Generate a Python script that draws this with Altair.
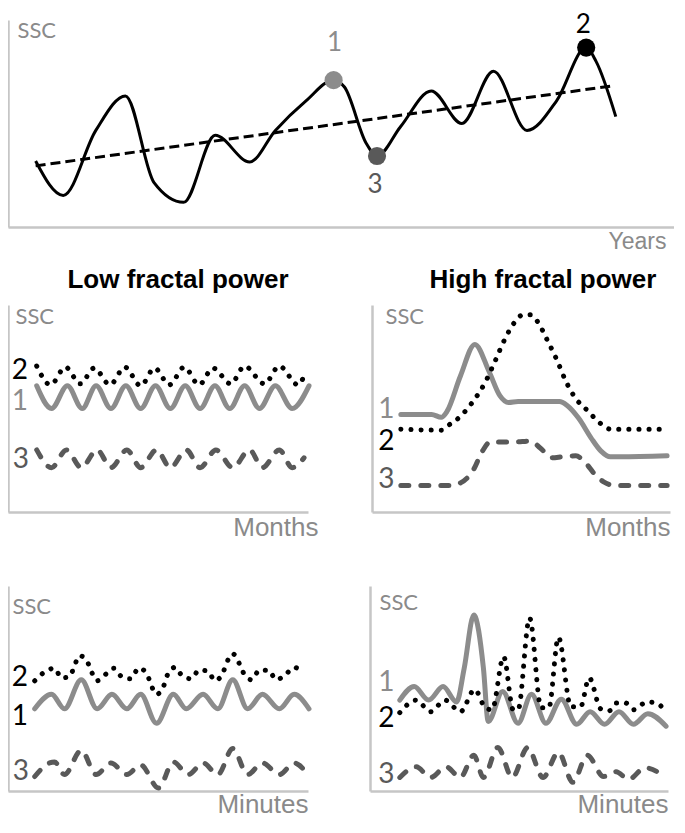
import altair as alt
import pandas as pd

GRAY = "#8c8c8c"
DARK = "#595959"
BLACK = "#000000"
AXIS_COL = "#c6c6c6"
TITLE_COL = "#8a8a8a"
NUM_FONT = "Lato"
TXT_FONT = "Liberation Sans"

# ---------------- Top panel: SSC over years ----------------
yr_t = [28, 56, 89, 119, 148, 178, 210, 245, 271, 302, 330, 341, 363, 374, 398, 429, 460, 492, 526, 556, 586, 596, 616]
yr_ssc = [67, 32, 98, 133, 45, 25, 93, 66, 98, 128, 149, 142, 85, 72, 102, 138, 105, 158, 98, 128, 182, 168, 112]
trend_t = [28, 611]
trend_ssc = [62, 143]
event_t = [330, 586, 374]
event_ssc = [149, 182, 72]
event_col = [GRAY, BLACK, DARK]
event_lab = ["1", "2", "3"]
event_lab_t = [331, 583, 372]
event_lab_ssc = [187, 205, 43]

# ---------------- Middle left: low fractal power, months ----------------
ml_t1 = [29, 44, 60, 75, 89, 104, 119, 134, 149, 164, 179, 194, 209, 224, 239, 254, 270, 287, 304]
ml_s1 = [128, 105, 128, 105, 128, 105, 128, 105, 128, 105, 128, 105, 128, 105, 128, 105, 128, 105, 128]
ml_t2 = [29, 43, 58, 73, 87, 103, 118, 134, 148, 163, 178, 193, 207, 225, 239, 259, 274, 293, 299]
ml_s2 = [148, 129, 147, 130, 146, 129, 147, 128, 146, 129, 147, 129, 146, 130, 148, 130, 148, 129, 138]
ml_t3 = [29, 44, 59, 74, 90, 104, 120, 134, 150, 164, 180, 194, 210, 227, 244, 257, 274, 287, 299]
ml_s3 = [63, 45, 63, 45, 63, 45, 63, 45, 63, 45, 63, 45, 63, 45, 63, 45, 63, 45, 55]
ml_lab_t = [12, 12, 13]
ml_lab_ssc = [143, 112, 53]
ml_lab = ["2", "1", "3"]
ml_lab_col = [BLACK, GRAY, DARK]

# ---------------- Middle right: high fractal power, months ----------------
mr_t1 = [30, 62, 72, 78, 92, 107, 122, 133, 142, 152, 195, 203, 215, 228, 238, 248, 258, 307]
mr_s1 = [99, 99, 96, 102, 138, 170, 142, 118, 111, 112, 112, 108, 95, 75, 62, 56, 56, 57]
mr_t2 = [30, 72, 78, 92, 105, 118, 128, 138, 148, 157, 165, 173, 182, 192, 202, 212, 222, 232, 240, 248, 307]
mr_s2 = [84, 83, 87, 97, 112, 132, 153, 175, 192, 200, 200, 192, 175, 155, 132, 115, 105, 95, 88, 84, 84]
mr_t3 = [30, 82, 93, 105, 115, 123, 132, 148, 165, 175, 187, 198, 212, 222, 232, 242, 252, 307]
mr_s3 = [27, 27, 30, 42, 62, 71, 71, 71, 72, 65, 55, 56, 57, 50, 38, 30, 27, 27]
mr_lab_t = [15, 15, 15]
mr_lab_ssc = [103, 71, 32]
mr_lab = ["1", "2", "3"]
mr_lab_col = [GRAY, BLACK, DARK]

# ---------------- Bottom left: low fractal power, minutes ----------------
bl_t1 = [27, 44, 57, 74, 90, 105, 120, 134, 150, 167, 180, 197, 212, 227, 242, 257, 274, 289, 304]
bl_s1 = [85, 100, 85, 115, 85, 100, 85, 100, 70, 100, 85, 100, 85, 115, 85, 100, 85, 100, 85]
bl_t2 = [27, 37, 47, 54, 62, 67, 72, 79, 84, 90, 99, 107, 115, 124, 132, 140, 144, 150, 157, 161,
         169, 176, 185, 193, 202, 209, 217, 221, 227, 234, 239, 246, 254, 263, 271, 280, 289, 298]
bl_s2 = [114, 123, 127, 117, 118, 129, 140, 136, 124, 114, 121, 127, 118, 116, 127, 122, 111, 100, 108, 120,
         128, 119, 116, 125, 124, 114, 122, 133, 142, 131, 120, 115, 125, 125, 115, 120, 128, 121]
bl_t3 = [27, 42, 47, 57, 74, 89, 104, 120, 134, 152, 167, 182, 197, 212, 227, 242, 257, 274, 289, 304]
bl_s3 = [15, 29, 30, 17, 42, 17, 29, 17, 27, 3, 30, 17, 29, 17, 44, 17, 29, 17, 29, 15]
bl_lab_t = [12, 12, 13]
bl_lab_ssc = [117, 77, 20]
bl_lab = ["2", "1", "3"]
bl_lab_col = [BLACK, BLACK, DARK]

# ---------------- Bottom right: high fractal power, minutes ----------------
br_t1 = [31, 46, 61, 76, 90, 98, 108, 118, 123, 138, 154, 168, 183, 199, 215, 229, 244, 259, 274, 289, 308]
br_s1 = [94, 108, 94, 108, 92, 127, 182, 127, 72, 103, 70, 100, 70, 95, 69, 82, 69, 82, 69, 80, 67]
br_t2 = [31, 48, 63, 78, 94, 109, 120, 127, 139, 149, 154, 166, 178, 186, 196, 209, 219, 228, 240,
         249, 256, 266, 274, 288, 298, 306]
br_s2 = [81, 94, 82, 94, 82, 105, 86, 84, 139, 84, 84, 179, 86, 86, 159, 87, 87, 117, 85,
         83, 91, 91, 84, 92, 91, 84]
br_t3 = [31, 48, 63, 79, 94, 108, 118, 133, 148, 164, 180, 196, 211, 226, 243, 256, 269, 286, 308]
br_s3 = [14, 25, 14, 25, 14, 37, 14, 45, 14, 45, 14, 40, 9, 37, 15, 20, 12, 24, 14]
br_lab_t = [17, 17, 17]
br_lab_ssc = [112, 74, 17]
br_lab = ["1", "2", "3"]
br_lab_col = [GRAY, BLACK, DARK]

SOLID_GRAY = dict(color=GRAY, strokeWidth=5, strokeCap="round", strokeJoin="round")
DOTTED = dict(color=BLACK, strokeWidth=5, strokeDash=[0.1, 10], strokeCap="round", strokeJoin="round")
DASHED = dict(color=DARK, strokeWidth=5, strokeDash=[8, 12], strokeCap="round", strokeJoin="round")


def make_axes(xtitle, xtx, xty, xfs, sx, sy):
    xa = alt.Axis(title=xtitle, labels=False, ticks=False, grid=False,
                  domainColor=AXIS_COL, domainWidth=2.5,
                  titleX=xtx, titleY=xty, titleAlign="right", titleBaseline="alphabetic",
                  titleFont=TXT_FONT, titleFontSize=xfs, titleFontWeight="normal",
                  titleColor=TITLE_COL, titlePadding=0, minExtent=0)
    ya = alt.Axis(title="SSC", labels=False, ticks=False, grid=False,
                  domainColor=AXIS_COL, domainWidth=2.5, titleAngle=0,
                  titleX=sx, titleY=sy, titleAlign="left", titleBaseline="alphabetic",
                  titleFont=NUM_FONT, titleFontSize=22, titleFontWeight="normal",
                  titleColor=TITLE_COL, titlePadding=0, minExtent=0)
    return xa, ya


def panel(width, height, xdom, ydom, axes, lines, labs, lab_fs, extra=None):
    xa, ya = axes
    X = alt.X("t:Q", scale=alt.Scale(domain=[0, xdom], nice=False, zero=False), axis=xa)
    Y = alt.Y("ssc:Q", scale=alt.Scale(domain=[0, ydom], nice=False, zero=False), axis=ya)
    layers = []
    for ts, ss, style in lines:
        df = pd.DataFrame({"t": ts, "ssc": ss})
        layers.append(alt.Chart(df).mark_line(interpolate="monotone", clip=False, **style)
                      .encode(x=X, y=Y))
    if extra is not None:
        ts, ss, cols = extra
        df = pd.DataFrame({"t": ts, "ssc": ss, "col": cols})
        layers.append(alt.Chart(df).mark_circle(size=330, opacity=1)
                      .encode(x=X, y=Y, color=alt.Color("col:N", scale=None)))
    lt, ls, lab, lc = labs
    df = pd.DataFrame({"t": lt, "ssc": ls, "lab": lab, "col": lc})
    layers.append(alt.Chart(df).mark_text(font=NUM_FONT, fontSize=lab_fs, align="center",
                                          baseline="middle")
                  .encode(x=X, y=Y, text="lab:N", color=alt.Color("col:N", scale=None)))
    return alt.layer(*layers).properties(width=width, height=height)


def ptitle(text, dx):
    return alt.TitleParams(text=text, font=TXT_FONT, fontSize=26, fontWeight="bold",
                           color=BLACK, anchor="middle", frame="group", dx=dx,
                           offset=-9, baseline="alphabetic")


top = panel(666, 207, 675, 210,
            make_axes("Years", 658, 21, 23, 9, 17),
            [(yr_t, yr_ssc, dict(color=BLACK, strokeWidth=3, strokeJoin="round")),
             (trend_t, trend_ssc, dict(color=BLACK, strokeWidth=3, strokeDash=[10, 5]))],
            (event_lab_t, event_lab_ssc, event_lab, event_col), 26,
            extra=(event_t, event_ssc, event_col))

ml = panel(300, 207, 303, 210,
           make_axes("Months", 310, 23, 26, 7, 18),
           [(ml_t1, ml_s1, SOLID_GRAY), (ml_t2, ml_s2, DOTTED), (ml_t3, ml_s3, DASHED)],
           (ml_lab_t, ml_lab_ssc, ml_lab, ml_lab_col), 28).properties(
    title=ptitle("Low fractal power", 20))

mr = panel(298, 207, 310, 210,
           make_axes("Months", 298, 23, 26, 13, 18),
           [(mr_t1, mr_s1, SOLID_GRAY), (mr_t2, mr_s2, DOTTED), (mr_t3, mr_s3, DASHED)],
           (mr_lab_t, mr_lab_ssc, mr_lab, mr_lab_col), 28).properties(
    title=ptitle("High fractal power", 22))

bl = panel(300, 205, 303, 212,
           make_axes("Minutes", 300, 21, 26, 4, 27),
           [(bl_t1, bl_s1, SOLID_GRAY), (bl_t2, bl_s2, DOTTED), (bl_t3, bl_s3, DASHED)],
           (bl_lab_t, bl_lab_ssc, bl_lab, bl_lab_col), 28)

br = panel(298, 205, 310, 212,
           make_axes("Minutes", 298, 21, 26, 9, 23),
           [(br_t1, br_s1, SOLID_GRAY), (br_t2, br_s2, DOTTED), (br_t3, br_s3, DASHED)],
           (br_lab_t, br_lab_ssc, br_lab, br_lab_col), 28)

middle_row = alt.hconcat(ml, mr, spacing=54)
bottom_row = alt.hconcat(bl, br, spacing=58)
lower = alt.vconcat(middle_row, bottom_row, spacing=46)

chart = (alt.vconcat(top, lower, spacing=14)
         .properties(padding={"left": 0, "top": 3, "right": 0, "bottom": 0})
         .configure_view(stroke=None))

chart.save("out.html", embed_options={"renderer": "svg", "actions": False})
